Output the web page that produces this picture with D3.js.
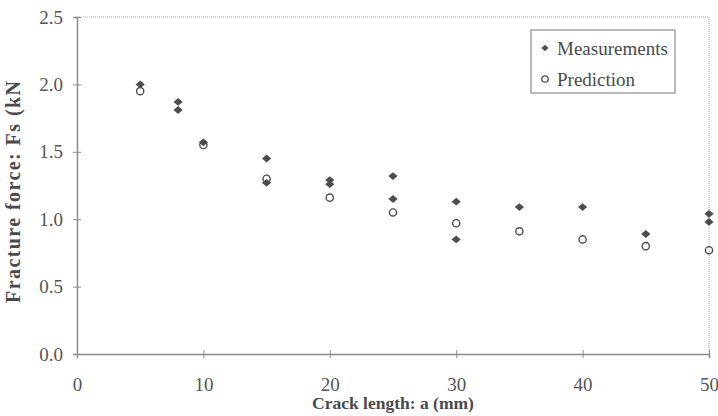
<!DOCTYPE html>
<html>
<head>
<meta charset="utf-8">
<script src="https://cdn.jsdelivr.net/npm/d3@7"></script>
<style>
  body { margin: 0; background: #fff; }
  svg { display: block; }
</style>
</head>
<body>
<svg id="chart" width="718" height="416"></svg>
<script>
// measured points (crack length mm, force kN)
const measX = [5, 8, 8, 10, 15, 15, 20, 20, 25, 25, 30, 30, 35, 40, 45, 50, 50];
const measY = [2.0, 1.87, 1.81, 1.57, 1.45, 1.27, 1.29, 1.26, 1.32, 1.15, 1.13, 0.85, 1.09, 1.09, 0.89, 1.04, 0.98];
// model prediction
const predX = [5, 10, 15, 20, 25, 30, 35, 40, 45, 50];
const predY = [1.95, 1.55, 1.30, 1.16, 1.05, 0.97, 0.91, 0.85, 0.80, 0.77];

const xTicks = [0, 10, 20, 30, 40, 50];
const yTicks = [0, 0.5, 1.0, 1.5, 2.0, 2.5];
const seriesNames = ["Measurements", "Prediction"];

const svg = d3.select("#chart");
const plotL = 77, plotR = 709, plotT = 17, plotB = 354;
const axisCol = "#8c8c8c", markCol = "#4d4d4d", textCol = "#555";
const serif = "'Liberation Serif', 'Times New Roman', serif";

const x = d3.scaleLinear().domain([0, 50]).range([plotL, plotR]);
const y = d3.scaleLinear().domain([0, 2.5]).range([plotB, plotT]);

// dotted frame top/right
svg.append("line").attr("x1", plotL).attr("x2", plotR).attr("y1", plotT).attr("y2", plotT)
  .attr("stroke", "#aaa").attr("stroke-width", 1).attr("stroke-dasharray", "1,1");
svg.append("line").attr("x1", plotR).attr("x2", plotR).attr("y1", plotT).attr("y2", plotB)
  .attr("stroke", "#aaa").attr("stroke-width", 1).attr("stroke-dasharray", "1,1");

const gx = svg.append("g").attr("transform", `translate(0,${plotB})`)
  .call(d3.axisBottom(x).tickValues(xTicks).tickFormat(d3.format("d")).tickSize(4));
const gy = svg.append("g").attr("transform", `translate(${plotL},0)`)
  .call(d3.axisLeft(y).tickValues(yTicks).tickFormat(d3.format(".1f")).tickSize(4).tickPadding(10));

[gx, gy].forEach(g => {
  g.attr("font-family", serif);
  g.select(".domain").attr("stroke", axisCol).attr("stroke-width", 1.5);
  g.selectAll(".tick line").attr("stroke", axisCol).attr("stroke-width", 1);
  g.selectAll(".tick text").attr("fill", textCol).style("font-family", serif).style("font-size", "19px");
});
gx.selectAll(".tick line").attr("y1", -4);
gy.selectAll(".tick line").attr("x1", 4).attr("x2", -4);
gx.selectAll(".tick text").attr("y", 37).attr("dy", null);

// axis titles
svg.append("text").attr("x", (plotL + plotR) / 2).attr("y", 409).attr("text-anchor", "middle")
  .style("font-family", serif).style("font-size", "17.5px").style("font-weight", "bold")
  .attr("fill", "#4a4a4a").text("Crack length: a (mm)");
svg.append("text").attr("transform", "translate(20,192) rotate(-90)").attr("text-anchor", "middle")
  .attr("textLength", 222).attr("lengthAdjust", "spacing")
  .style("font-family", serif).style("font-size", "20px").style("font-weight", "bold")
  .attr("fill", "#4a4a4a").text("Fracture force: Fs (kN");

// rotated square as diamond marker
const diamond = d3.symbol().type(d3.symbolSquare).size(34);

svg.append("g").selectAll("path")
  .data(measX.map((d, i) => [d, measY[i]]))
  .join("path")
  .attr("d", diamond)
  .attr("transform", d => `translate(${x(d[0])},${y(d[1])}) scale(1.12,0.95) rotate(45)`)
  .attr("fill", markCol);

svg.append("g").selectAll("circle")
  .data(predX.map((d, i) => [d, predY[i]]))
  .join("circle")
  .attr("cx", d => x(d[0])).attr("cy", d => y(d[1])).attr("r", 3.6)
  .attr("fill", "none").attr("stroke", markCol).attr("stroke-width", 1.4);

// legend
const lg = svg.append("g");
lg.append("rect").attr("x", 531).attr("y", 30).attr("width", 144).attr("height", 63)
  .attr("fill", "#fff").attr("stroke", "#777").attr("stroke-width", 1);
const rowY = [48, 79];
lg.append("path").attr("d", d3.symbol().type(d3.symbolSquare).size(22))
  .attr("transform", `translate(545,${rowY[0]}) scale(1.1,0.95) rotate(45)`).attr("fill", markCol);
lg.append("circle").attr("cx", 545).attr("cy", rowY[1]).attr("r", 3.2)
  .attr("fill", "none").attr("stroke", markCol).attr("stroke-width", 1.3);
lg.selectAll("text").data(seriesNames).join("text")
  .attr("x", 557).attr("y", (d, i) => rowY[i]).attr("dy", "0.35em")
  .style("font-family", serif).style("font-size", "19px").attr("fill", "#4a4a4a")
  .text(d => d);
</script>
</body>
</html>
